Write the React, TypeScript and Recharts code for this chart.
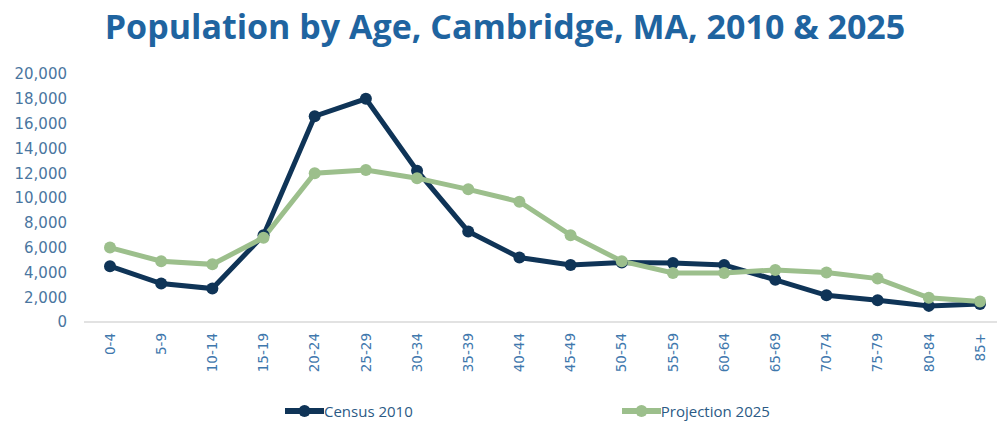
import { LineChart, Line, XAxis, YAxis, Legend } from 'recharts'

const ageGroups = ['0-4', '5-9', '10-14', '15-19', '20-24', '25-29', '30-34', '35-39', '40-44', '45-49', '50-54', '55-59', '60-64', '65-69', '70-74', '75-79', '80-84', '85+']
const census2010 = [4500, 3100, 2700, 7000, 16600, 18000, 12200, 7300, 5200, 4600, 4800, 4750, 4600, 3400, 2150, 1750, 1300, 1450]
const projection2025 = [6000, 4900, 4650, 6800, 12000, 12250, 11600, 10700, 9700, 7000, 4900, 3950, 3950, 4200, 4000, 3500, 1950, 1650]
const yTicks = [0, 2000, 4000, 6000, 8000, 10000, 12000, 14000, 16000, 18000, 20000]

const seriesInfo = [
  { key: 'census', name: 'Census 2010', color: '#0f3457' },
  { key: 'projection', name: 'Projection 2025', color: '#9cbf8c' },
]

const data = ageGroups.map((age, i) => ({
  age,
  census: census2010[i],
  projection: projection2025[i],
}))

const AgeTick = (props: any) => {
  const { x, payload } = props
  return (
    <g transform={`translate(${x},333)`}>
      <text
        transform="rotate(-90)"
        textAnchor="end"
        dy="0.35em"
        fill="#3f78ad"
        fontSize={13.5}
        fontFamily="'DejaVu Sans', sans-serif"
      >
        {payload.value}
      </text>
    </g>
  )
}

// legend drawn as line + dot marker like the original
const LegendContent = () => (
  <div style={{ display: 'flex', alignItems: 'center', paddingTop: 10, paddingLeft: 285, gap: 209 }}>
    {seriesInfo.map(s => (
      <div key={s.key} style={{ display: 'flex', alignItems: 'center', height: 20 }}>
        <svg width={39} height={14}>
          <line x1={0} y1={7} x2={39} y2={7} stroke={s.color} strokeWidth={6} />
          <circle cx={19.5} cy={7} r={6} fill={s.color} />
        </svg>
        <span style={{ fontSize: 15, lineHeight: '20px', color: '#2b5a85', fontFamily: "'Open Sans', sans-serif" }}>{s.name}</span>
      </div>
    ))}
  </div>
)

const App = () => {
  return (
    <div style={{ position: 'absolute', top: 0, left: 0, width: 997, height: 421, overflow: 'hidden', background: '#fff' }}>
      <div
        style={{
          position: 'absolute',
          top: 4,
          left: 0,
          width: 1010,
          textAlign: 'center',
          fontFamily: "'Open Sans', sans-serif",
          fontWeight: 700,
          fontSize: 34,
          lineHeight: '44px',
          color: '#1f64a0',
        }}
      >
        Population by Age, Cambridge, MA, 2010 &amp; 2025
      </div>
      <LineChart width={1010} height={421} data={data} margin={{ top: 74, right: 4, left: 0, bottom: 0 }}>
        <XAxis
          dataKey="age"
          interval={0}
          height={69}
          padding={{ left: 26, right: 26 }}
          tickLine={false}
          axisLine={{ stroke: '#d9d9d9', strokeWidth: 1.5 }}
          tick={<AgeTick />}
        />
        <YAxis
          width={84}
          domain={[0, 20000]}
          ticks={yTicks}
          axisLine={false}
          tickLine={false}
          tickMargin={11}
          tickFormatter={(v: number) => v.toLocaleString('en-US')}
          tick={{ fill: '#4a76a0', fontSize: 15, fontFamily: "'DejaVu Sans', sans-serif" }}
        />
        <Legend verticalAlign="bottom" height={30} content={<LegendContent />} />
        {seriesInfo.map(s => (
          <Line
            key={s.key}
            dataKey={s.key}
            name={s.name}
            stroke={s.color}
            strokeWidth={5}
            dot={{ r: 6, fill: s.color, stroke: s.color, strokeWidth: 0 }}
            activeDot={false}
            isAnimationActive={false}
          />
        ))}
      </LineChart>
    </div>
  )
}

export default App
